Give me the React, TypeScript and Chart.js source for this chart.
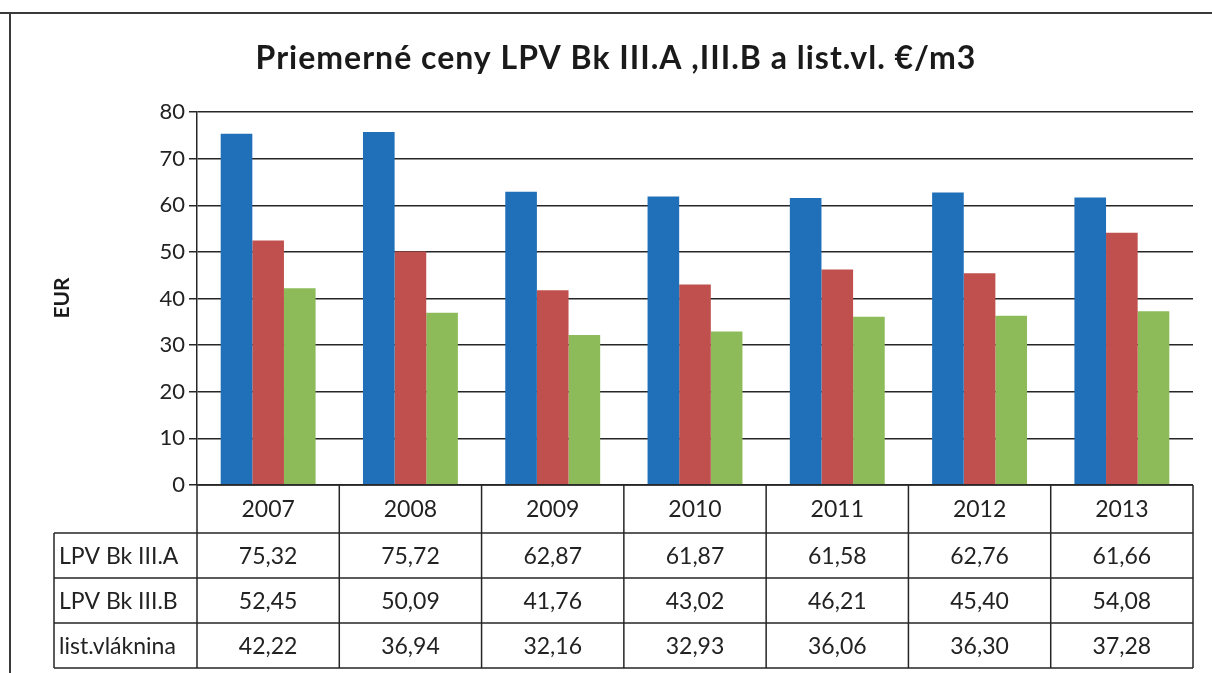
import React, { useEffect, useRef } from "react";
import { Chart, registerables } from "chart.js";
Chart.register(...registerables);

const years = ["2007", "2008", "2009", "2010", "2011", "2012", "2013"];
const seriesNames = ["LPV Bk III.A", "LPV Bk III.B", "list.vláknina"];
const lpvA = [75.32, 75.72, 62.87, 61.87, 61.58, 62.76, 61.66];
const lpvB = [52.45, 50.09, 41.76, 43.02, 46.21, 45.4, 54.08];
const listVl = [42.22, 36.94, 32.16, 32.93, 36.06, 36.3, 37.28];
const seriesColors = ["#1f70b8", "#c0504d", "#8dbb5a"];
const chartTitle = "Priemerné ceny LPV Bk III.A ,III.B a list.vl. €/m3";
const yAxisTitle = "EUR";

const fmt = (v: number) => v.toFixed(2).replace(".", ",");
const FONT = "Lato, 'Open Sans', sans-serif";
const LINE = "#262626";

const tablePlugin = {
  id: "tableAndDecor",
  afterDraw(chart: any) {
    const ctx = chart.ctx as CanvasRenderingContext2D;
    const area = chart.chartArea;
    const xs = chart.scales.x;
    ctx.save();
    // outer frame
    ctx.strokeStyle = "#3a3a3a";
    ctx.lineWidth = 2;
    ctx.beginPath();
    ctx.moveTo(0, 13);
    ctx.lineTo(1212, 13);
    ctx.moveTo(10, 13);
    ctx.lineTo(10, 673);
    ctx.stroke();

    // title
    ctx.fillStyle = "#1a1a1a";
    ctx.font = `bold 32px ${FONT}`;
    (ctx as any).letterSpacing = "1px";
    ctx.textAlign = "center";
    ctx.textBaseline = "alphabetic";
    ctx.fillText(chartTitle, 616, 69);
    (ctx as any).letterSpacing = "0px";

    // y title
    ctx.save();
    ctx.translate(62, 298);
    ctx.rotate(-Math.PI / 2);
    ctx.font = `bold 21px ${FONT}`;
    ctx.textBaseline = "middle";
    ctx.fillText(yAxisTitle, 0, 0);
    ctx.restore();

    // data table
    const n = years.length;
    const catW = (area.right - area.left) / n;
    const top = area.bottom;
    const rowsY = [top, top + 48, top + 93, top + 138, top + 183];
    const labelLeft = 54;
    ctx.strokeStyle = LINE;
    ctx.lineWidth = 1.5;
    ctx.beginPath();
    ctx.moveTo(area.left, rowsY[0]);
    ctx.lineTo(area.right, rowsY[0]);
    for (let r = 1; r < rowsY.length; r++) {
      ctx.moveTo(labelLeft, rowsY[r]);
      ctx.lineTo(area.right, rowsY[r]);
    }
    for (let i = 0; i <= n; i++) {
      const x = xs.getPixelForValue(Math.min(i, n - 1)) + (i === n ? catW / 2 : -catW / 2);
      ctx.moveTo(x, rowsY[0]);
      ctx.lineTo(x, rowsY[rowsY.length - 1]);
    }
    ctx.moveTo(labelLeft, rowsY[1]);
    ctx.lineTo(labelLeft, rowsY[rowsY.length - 1]);
    ctx.stroke();

    ctx.fillStyle = "#222";
    ctx.font = `23px ${FONT}`;
    ctx.textBaseline = "middle";
    ctx.textAlign = "center";
    years.forEach((y, i) => {
      ctx.fillText(y, xs.getPixelForValue(i), (rowsY[0] + rowsY[1]) / 2 + 1);
    });
    const series = [lpvA, lpvB, listVl];
    series.forEach((vals, r) => {
      const cy = (rowsY[r + 1] + rowsY[r + 2]) / 2 + 1;
      ctx.textAlign = "left";
      ctx.fillText(seriesNames[r], labelLeft + 5, cy);
      ctx.textAlign = "center";
      vals.forEach((v, i) => ctx.fillText(fmt(v), xs.getPixelForValue(i), cy));
    });
    ctx.restore();
  },
};

export default function App() {
  const ref = useRef<HTMLCanvasElement | null>(null);
  useEffect(() => {
    if (!ref.current) return;
    const chart = new Chart(ref.current, {
      type: "bar",
      data: {
        labels: years,
        datasets: [lpvA, lpvB, listVl].map((d, i) => ({
          label: seriesNames[i],
          data: d,
          backgroundColor: seriesColors[i],
          borderWidth: 0,
          categoryPercentage: 0.667,
          barPercentage: 1,
        })),
      },
      options: {
        animation: false,
        responsive: true,
        maintainAspectRatio: false,
        layout: { padding: { left: 10, top: 112, right: 19, bottom: 188 } },
        plugins: {
          legend: { display: false },
          title: { display: false },
          tooltip: { enabled: false },
        },
        scales: {
          x: { display: false, offset: true },
          y: {
            min: 0,
            max: 80,
            ticks: {
              stepSize: 10,
              color: "#222",
              font: { family: FONT, size: 22 },
              padding: 4,
            },
            grid: { color: LINE, lineWidth: 1.5, tickLength: 8, drawTicks: true },
            border: { display: true, color: LINE, width: 1.5 },
            afterFit: (scale: any) => {
              scale.width = 187;
            },
          },
        },
      },
      plugins: [tablePlugin],
    });
    return () => chart.destroy();
  }, []);
  return (
    <div style={{ position: "fixed", left: 0, top: 0, width: 1212, height: 673, background: "#fff" }}>
      <canvas ref={ref} />
    </div>
  );
}
